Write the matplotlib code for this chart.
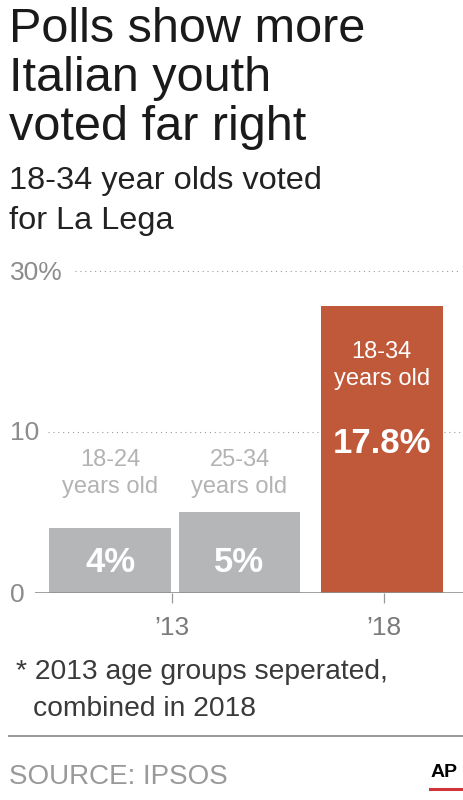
import matplotlib
matplotlib.use("Agg")
import matplotlib.pyplot as plt
from matplotlib import transforms

title_lines = ["Polls show more", "Italian youth", "voted far right"]
subtitle_lines = ["18-34 year olds voted", "for La Lega"]

groups = ["18-24", "25-34", "18-34"]
values = [4, 5, 17.8]
value_labels = ["4%", "5%", "17.8%"]
years = ["\u201913", "\u201918"]
ytick_values = [0, 10, 20]
ytick_labels = ["0", "10", "30%"]

footnote_lines = ["* 2013 age groups seperated,", "combined in 2018"]
source = "SOURCE: IPSOS"

W, H = 464, 800
GREY = "#b4b6b8"
ORANGE = "#c0583a"
bar_colors = [GREY, GREY, ORANGE]
bar_x = [0, 1, 2.1]
tick_x = [0.475, 2.12]

plt.rcParams["font.family"] = ["Liberation Sans", "DejaVu Sans"]


def fx(px):
    return px / W


def fy(py):
    return 1 - py / H


fig = plt.figure(figsize=(W / 100, H / 100), dpi=100)
fig.patch.set_facecolor("white")

# title + subtitle
for line, base in zip(title_lines, [42.5, 91, 139.5]):
    fig.text(fx(9), fy(base), line, fontsize=35, color="#1a1a1a", va="baseline", ha="left")
for line, base in zip(subtitle_lines, [189, 229.5]):
    fig.text(fx(9), fy(base), line, fontsize=23.4, color="#222222", va="baseline", ha="left")

# plot area: 0 at y=592.5px, 16.1 px per unit
ymax = 21
ax = fig.add_axes([fx(35), fy(592.5), (W - 35) / W, ymax * 16.1 / H])
ax.set_xlim(-0.582, 2.736)
ax.set_ylim(0, ymax)
for s in ax.spines.values():
    s.set_visible(False)
ax.set_yticks([])
ax.set_xticks(tick_x)
ax.tick_params(axis="x", length=7.5, width=0.9, color="#999999", labelbottom=False, direction="out")

ax.axhline(10, xmin=(48 - 35) / 429, xmax=(460 - 35) / 429, ls=(0, (1, 3.4)),
           lw=0.8, color="#9a9a9a", zorder=0)
ax.axhline(20, xmin=(75 - 35) / 429, xmax=(460 - 35) / 429, ls=(0, (1, 3.4)),
           lw=0.8, color="#9a9a9a", zorder=0)
ax.axhline(0, color="#8f8f8f", lw=1.2, zorder=3)

ax.bar(bar_x, values, width=0.94, color=bar_colors, zorder=2)

# y labels at the left edge of the figure
ytrans = transforms.blended_transform_factory(fig.transFigure, ax.transData)
ytrans = transforms.offset_copy(ytrans, fig=fig, y=-9, units="dots")
for v, lab in zip(ytick_values, ytick_labels):
    ax.text(fx(10), v, lab, transform=ytrans, fontsize=19, color="#8c8c8c",
            ha="left", va="baseline")

# year labels under the ticks
xtrans = transforms.blended_transform_factory(ax.transData, fig.transFigure)
for x, lab in zip(tick_x, years):
    ax.text(x, fy(635), lab, transform=xtrans, fontsize=19, color="#7a7a7a",
            ha="center", va="baseline")

# labels on and above the bars
for i in range(3):
    if i < 2:
        ax.text(bar_x[i], 1.29, value_labels[i], fontsize=25, fontweight="bold",
                color="white", ha="center", va="baseline", zorder=4)
        ax.text(bar_x[i], 7.86, groups[i], fontsize=17, color="#b3b3b3",
                ha="center", va="baseline")
        ax.text(bar_x[i], 6.16, "years old", fontsize=17, color="#b3b3b3",
                ha="center", va="baseline")
    else:
        ax.text(bar_x[i], 8.65, value_labels[i], fontsize=25, fontweight="bold",
                color="white", ha="center", va="baseline", zorder=4)
        ax.text(bar_x[i], 14.56, groups[i], fontsize=17, color="white",
                ha="center", va="baseline", zorder=4)
        ax.text(bar_x[i], 12.89, "years old", fontsize=17, color="white",
                ha="center", va="baseline", zorder=4)

# footnote, rule, source, logo
fig.text(fx(16), fy(679), footnote_lines[0], fontsize=20.3, color="#3a3a3a", va="baseline")
fig.text(fx(33), fy(715.5), footnote_lines[1], fontsize=20.3, color="#3a3a3a", va="baseline")
fig.add_artist(plt.Line2D([fx(9), fx(464)], [fy(736), fy(736)], color="#999999", lw=1.4))
fig.text(fx(9), fy(783.5), source, fontsize=20, color="#999999", va="baseline")
fig.text(fx(444.5), fy(777), "AP", fontsize=14, fontweight="bold", color="black",
         ha="center", va="baseline")
fig.add_artist(plt.Line2D([fx(430), fx(461)], [fy(788.5), fy(788.5)], color="#d2343c", lw=2.2))

fig.savefig("out.png", dpi=100)
